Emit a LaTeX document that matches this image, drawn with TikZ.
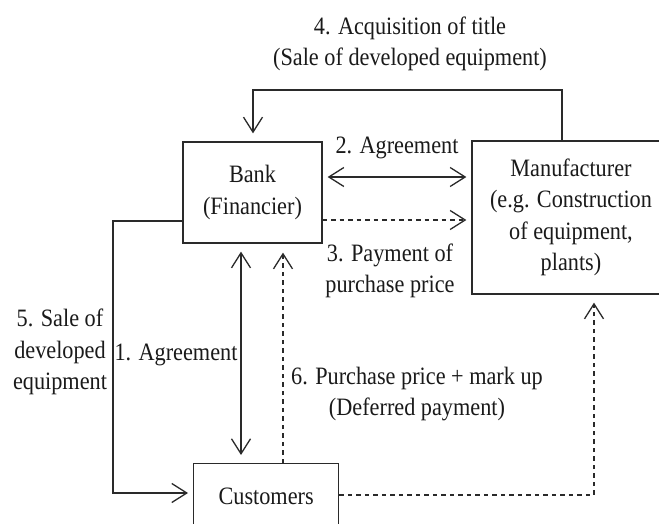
\documentclass[tikz,border=0pt]{standalone}
\usepackage{fontspec}
\setmainfont{Liberation Serif}[FakeStretch=0.89]
\usetikzlibrary{arrows.meta}
\definecolor{ink}{HTML}{2A2A2A}
\definecolor{txt}{HTML}{1A1A1A}
\tikzset{
  box/.style={draw=ink, line width=1.3pt, inner sep=0pt, align=center, text=txt},
  lbl/.style={inner sep=0pt, align=center, text=txt},
  conn/.style={draw=ink, line width=1.3pt},
  arrtip/.style={-{Straight Barb[length=15pt,width=19pt,line width=1.3pt]}},
  darrtip/.style={{Straight Barb[length=15pt,width=19pt,line width=1.3pt]}-{Straight Barb[length=15pt,width=19pt,line width=1.3pt]}},
  dashline/.style={dash pattern=on 4.5pt off 4pt}
}
\begin{document}
\begin{tikzpicture}[x=1pt,y=-1pt, font=\fontsize{25}{31.5}\selectfont]
\useasboundingbox (0,0) rectangle (659,524);
\fill[white] (0,0) rectangle (659,524);
\clip (0,0) rectangle (659,524);

\node[box, minimum width=139pt, minimum height=101pt] (bank) at (252.5,192.5) {Bank\\(Financier)};
\node[box, minimum width=198pt, minimum height=153pt] (man) at (571,217.5) {Manufacturer\\(e.g. Construction\\of equipment,\\plants)};
\node[box, minimum width=145pt, minimum height=68pt, anchor=north west] (cust) at (193,463) {\raisebox{2pt}{Customers}};

\coordinate (t1) at (562,90);
\coordinate (t2) at (253,90);
\coordinate (a2) at (0,177);
\coordinate (a3) at (0,220);
\coordinate (v1) at (241,0);
\coordinate (v6) at (283,0);
\coordinate (c1) at (594,495);
\coordinate (s1) at (113,221);
\coordinate (s2) at (113,493);

% 4
\draw[conn, arrtip, shorten >=8pt] (t1 |- man.north) -- (t1) -- (t2) -- (t2 |- bank.north);
\node[lbl] (l4) at (410,44) {4. Acquisition of title\\(Sale of developed equipment)};
% 2
\draw[conn, darrtip, shorten >=5pt, shorten <=5pt] (bank.east |- a2) -- (man.west |- a2);
\node[lbl] (l2) at (397,148) {2. Agreement};
% 3
\draw[conn, dashline, arrtip, shorten >=5pt] (bank.east |- a3) -- (man.west |- a3);
\node[lbl] (l3) at (390,271) {3. Payment of\\purchase price};
% 1
\draw[conn, darrtip, shorten >=8pt, shorten <=8pt] (v1 |- bank.south) -- (v1 |- cust.north);
\node[lbl] (l1) at (176,355) {1. Agreement};
% 6
\draw[conn, dashline, arrtip, shorten >=9pt] (v6 |- cust.north) -- (v6 |- bank.south);
\node[lbl] (l6) at (417,394) {6. Purchase price + mark up\\(Deferred payment)};
% customers -> manufacturer
\draw[conn, dashline, arrtip, shorten >=8pt] (cust.east |- c1) -- (c1) -- (c1 |- man.south);
% 5
\draw[conn, arrtip, shorten >=5pt] (bank.west |- s1) -- (s1) -- (s2) -- (cust.west |- s2);
\node[lbl] (l5) at (60,352) {5. Sale of\\developed\\equipment};
\end{tikzpicture}
\end{document}
